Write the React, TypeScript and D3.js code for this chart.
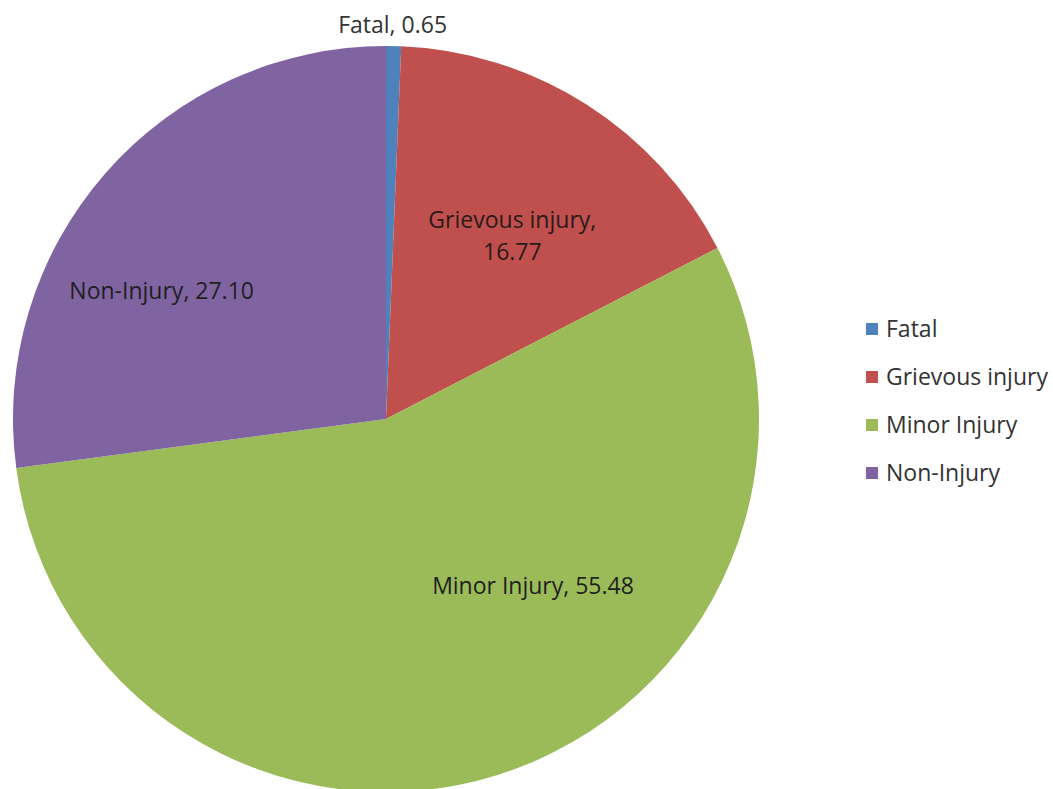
import * as d3 from 'd3'

const categories = ['Fatal', 'Grievous injury', 'Minor Injury', 'Non-Injury']
const values = [0.65, 16.77, 55.48, 27.1]
const valueLabels = ['0.65', '16.77', '55.48', '27.10']
const colors = ['#4F81BD', '#C0504D', '#9BBB59', '#8064A2']

const width = 1053
const height = 789
const cx = 386
const cy = 419
const radius = 373
const font = "'Open Sans', 'Liberation Sans', sans-serif"
const fontSize = 23

// Excel's best-fit label nudges, relative to the arc centroid
const nudge: Record<string, [number, number]> = {
  'Grievous injury': [6, 2],
  'Minor Injury': [80, -47],
  'Non-Injury': [-56, 19],
}

export default function App() {
  const data = categories.map((c, i) => ({ category: c, value: values[i], label: valueLabels[i], color: colors[i] }))
  const pie = d3
    .pie<(typeof data)[number]>()
    .value((d) => d.value)
    .sort(null)
  const arcs = pie(data)
  const arc = d3.arc<d3.PieArcDatum<(typeof data)[number]>>().innerRadius(0).outerRadius(radius)
  const labelArc = d3
    .arc<d3.PieArcDatum<(typeof data)[number]>>()
    .innerRadius(radius * 0.6)
    .outerRadius(radius * 0.6)

  return (
    <svg
      width={width}
      height={height}
      style={{ position: 'absolute', left: 0, top: 0, background: '#fff' }}
    >
      <g transform={`translate(${cx}, ${cy})`}>
        {arcs.map((a) => (
          <path key={a.data.category} d={arc(a) || ''} fill={a.data.color} />
        ))}
        {arcs.map((a) => {
          if (a.data.category === 'Fatal') {
            const mid = (a.startAngle + a.endAngle) / 2
            const x = Math.sin(mid) * radius
            const y = -Math.cos(mid) * (radius + 13)
            return (
              <text
                key={a.data.category}
                x={x - 1}
                y={y}
                textAnchor="middle"
                fontFamily={font}
                fontSize={fontSize}
                fill="#333"
              >
                {`${a.data.category}, ${a.data.label}`}
              </text>
            )
          }
          const [x, y] = labelArc.centroid(a)
          const [dx, dy] = nudge[a.data.category] || [0, 0]
          if (a.data.category === 'Grievous injury') {
            return (
              <text
                key={a.data.category}
                x={x + dx}
                y={y + dy}
                textAnchor="middle"
                fontFamily={font}
                fontSize={fontSize}
                fill="#2a1a1a"
              >
                <tspan x={x + dx} dy={-4}>{`${a.data.category},`}</tspan>
                <tspan x={x + dx} dy={32}>{a.data.label}</tspan>
              </text>
            )
          }
          return (
            <text
              key={a.data.category}
              x={x + dx}
              y={y + dy}
              dy="0.35em"
              textAnchor="middle"
              fontFamily={font}
              fontSize={fontSize}
              fill="#1f1f1f"
            >
              {`${a.data.category}, ${a.data.label}`}
            </text>
          )
        })}
      </g>
      <g transform="translate(866, 329)">
        {data.map((d, i) => (
          <g key={d.category} transform={`translate(0, ${i * 48})`}>
            <rect x={0} y={-6} width={12} height={12} fill={d.color} />
            <text x={20} y={0} dy="0.35em" fontFamily={font} fontSize={fontSize} fill="#333">
              {d.category}
            </text>
          </g>
        ))}
      </g>
    </svg>
  )
}
